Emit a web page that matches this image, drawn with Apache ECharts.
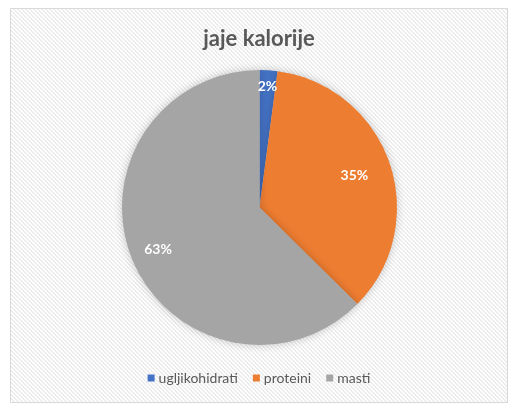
<!DOCTYPE html>
<html>
<head>
    <meta charset="utf-8">
    <title>jaje kalorije</title>
    <script src="https://cdn.jsdelivr.net/npm/echarts@6/dist/echarts.min.js"></script>
    <style>
        html, body { margin: 0; padding: 0; background: #fff; }
        #mychart { width: 518px; height: 411px; }
    </style>
</head>
<body>
<div id="mychart"></div>
<script>
    // podaci
    var categories = ['ugljikohidrati', 'proteini', 'masti'];
    var values = [2.1, 35.3, 62.6];
    var colors = ['#4472C4', '#ED7D31', '#A5A5A5'];
    // udaljenost oznake od sredista (dio polumjera)
    var labelRatio = [0.88, 0.73, 0.8];

    var cx = 259.5, cy = 207.5, R = 137.5;

    // prugasta pozadina
    function stripes() {
        var c = document.createElement('canvas');
        c.width = 4; c.height = 4;
        var g = c.getContext('2d');
        g.fillStyle = '#ffffff';
        g.fillRect(0, 0, 4, 4);
        g.fillStyle = '#ececec';
        for (var i = 0; i < 4; i++) {
            g.fillRect(i, i, 1, 1);
            g.fillRect((i + 1) % 4, i, 1, 1);
        }
        return c;
    }

    var total = 0;
    for (var i = 0; i < values.length; i++) total += values[i];

    function labelPos(idx) {
        var start = 0;
        for (var j = 0; j < idx; j++) start += values[j];
        var mid = (start + values[idx] / 2) / total * Math.PI * 2;
        var d = R * labelRatio[idx];
        return { x: cx + Math.sin(mid) * d, y: cy - Math.cos(mid) * d };
    }

    var pieData = [];
    for (var i = 0; i < categories.length; i++) {
        pieData.push({ name: categories[i], value: values[i], itemStyle: { color: colors[i] } });
    }

    var myChart = echarts.init(document.getElementById('mychart'));
    var option = {
        animation: false,
        backgroundColor: '#ffffff',
        graphic: [{
            type: 'rect',
            z: -10,
            shape: { x: 10.5, y: 8.5, width: 497, height: 394 },
            style: { fill: { image: stripes(), repeat: 'repeat' }, stroke: '#d9d9d9', lineWidth: 1 }
        }],
        title: {
            text: 'jaje kalorije',
            left: 'center',
            top: 23,
            textStyle: { fontFamily: 'Lato', fontWeight: 'bold', fontSize: 22, color: '#595959' }
        },
        legend: {
            bottom: 21,
            left: 'center',
            icon: 'rect',
            itemWidth: 7,
            itemHeight: 7,
            itemGap: 15,
            textStyle: { fontFamily: 'Lato', fontSize: 14, color: '#595959', padding: [0, 0, 0, -1] },
            data: categories
        },
        series: [{
            type: 'pie',
            center: [cx, cy],
            radius: R,
            startAngle: 90,
            clockwise: true,
            percentPrecision: 0,
            avoidLabelOverlap: false,
            itemStyle: {
                borderColor: '#ffffff',
                borderWidth: 0,
                shadowBlur: 8,
                shadowColor: 'rgba(0,0,0,0.22)'
            },
            emphasis: { disabled: true },
            label: {
                show: true,
                position: 'inside',
                formatter: '{d}%',
                color: '#ffffff',
                fontFamily: 'Lato',
                fontWeight: 'bold',
                fontSize: 14
            },
            labelLine: { show: false },
            labelLayout: function (params) {
                var p = labelPos(params.dataIndex);
                return { x: p.x, y: p.y, align: 'center', verticalAlign: 'middle' };
            },
            data: pieData
        }]
    };
    myChart.setOption(option);
</script>
</body>
</html>
